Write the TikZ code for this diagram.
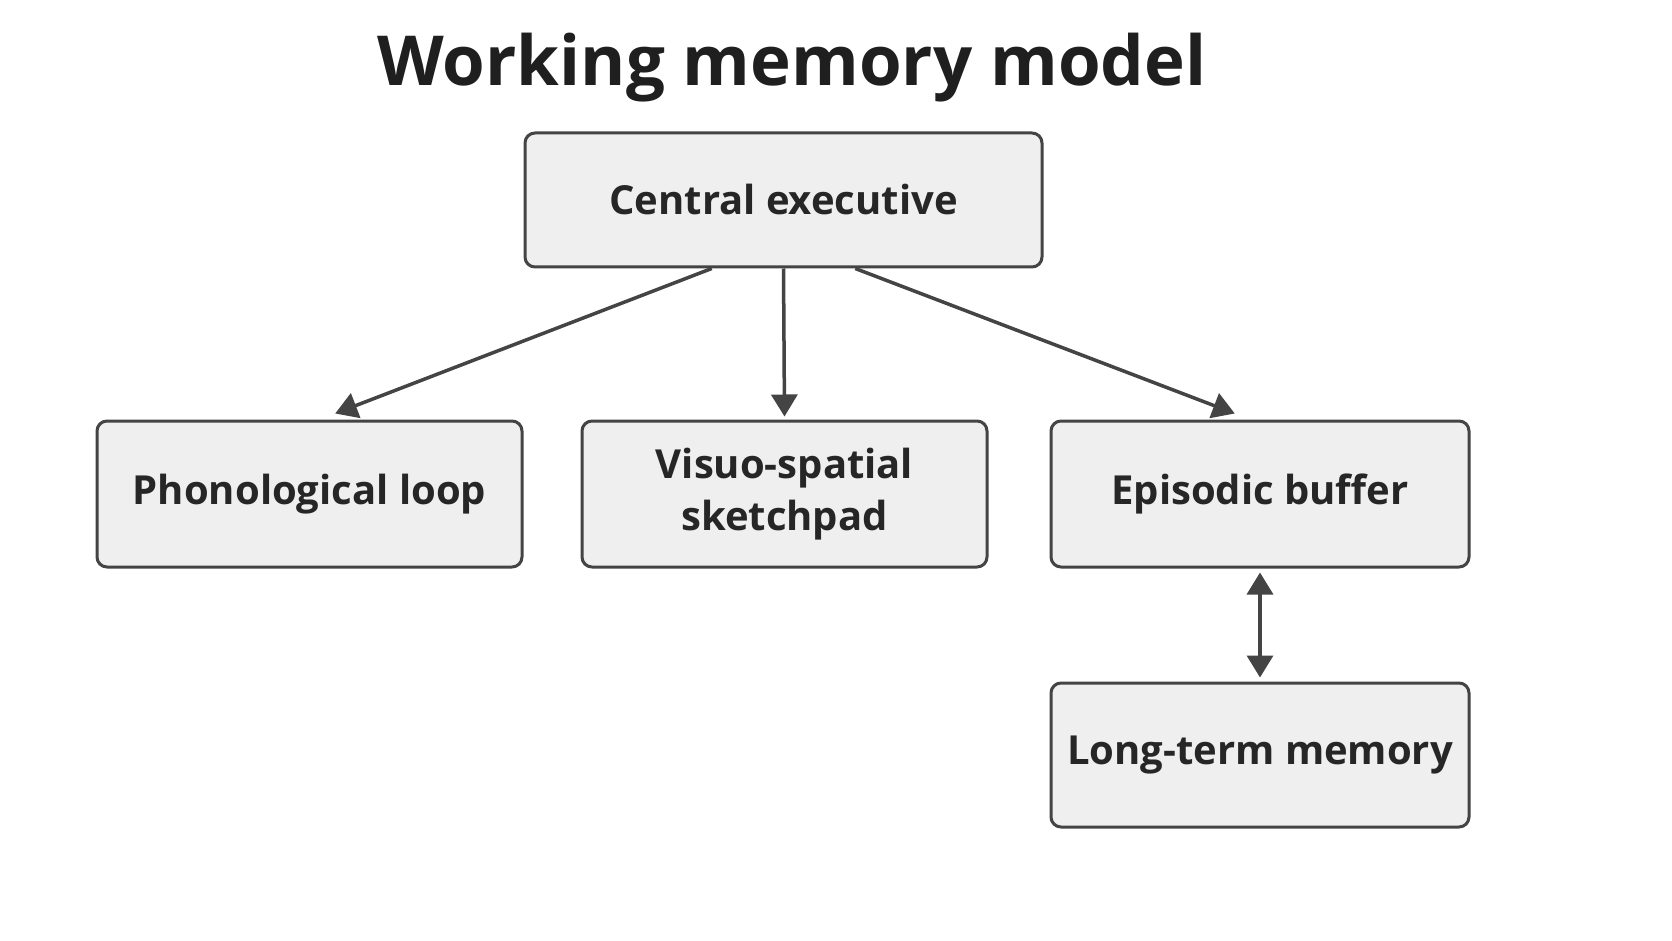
\documentclass[tikz,border=0pt]{standalone}
\usepackage{fontspec}
\setmainfont{Open Sans}
\usetikzlibrary{arrows.meta,calc}
\definecolor{boxfill}{HTML}{EFEFEF}
\definecolor{edge}{HTML}{444444}
\begin{document}
\begin{tikzpicture}[x=1pt,y=-1pt,
  box/.style={draw=edge,line width=3pt,fill=boxfill,rounded corners=10pt,inner sep=0pt,align=center,font=\fontsize{40}{52}\selectfont\bfseries,text=black!85},
  arr/.style={draw=edge,line width=3.5pt,-{Triangle[length=22pt,width=26pt]}},
  darr/.style={draw=edge,line width=3.5pt,{Triangle[length=22pt,width=26pt]}-{Triangle[length=22pt,width=26pt]}}]
\fill[white] (0,0) rectangle (1672,941);
\useasboundingbox (0,0) rectangle (1672,941);
\node[font=\fontsize{69}{72}\selectfont\bfseries,text=black!88] (title) at (792,68) {Working memory model};
\node[box,minimum width=517pt,minimum height=134pt] (ce) at (783.5,200) {Central executive};
\node[box,minimum width=425pt,minimum height=146pt] (pl) at (309.5,494) {Phonological loop};
\node[box,minimum width=405pt,minimum height=146pt] (vs) at (784.5,494) {Visuo-spatial\\sketchpad};
\node[box,minimum width=418pt,minimum height=146pt] (eb) at (1260,494) {Episodic buffer};
\node[box,minimum width=418pt,minimum height=144pt] (lt) at (1260,755) {Long-term memory};
\draw[arr] ($(ce.south west)!0.362!(ce.south east)$) -- ($(pl.north west)!0.56!(pl.north east)+(0,-6)$);
\draw[arr] (ce.south) -- ($(vs.north)+(0,-3)$);
\draw[arr] ($(ce.south west)!0.638!(ce.south east)$) -- ($(eb.north west)!0.44!(eb.north east)+(0,-6)$);
\draw[darr] ($(eb.south)+(0,4)$) -- ($(lt.north)+(0,-4)$);
\end{tikzpicture}
\end{document}
